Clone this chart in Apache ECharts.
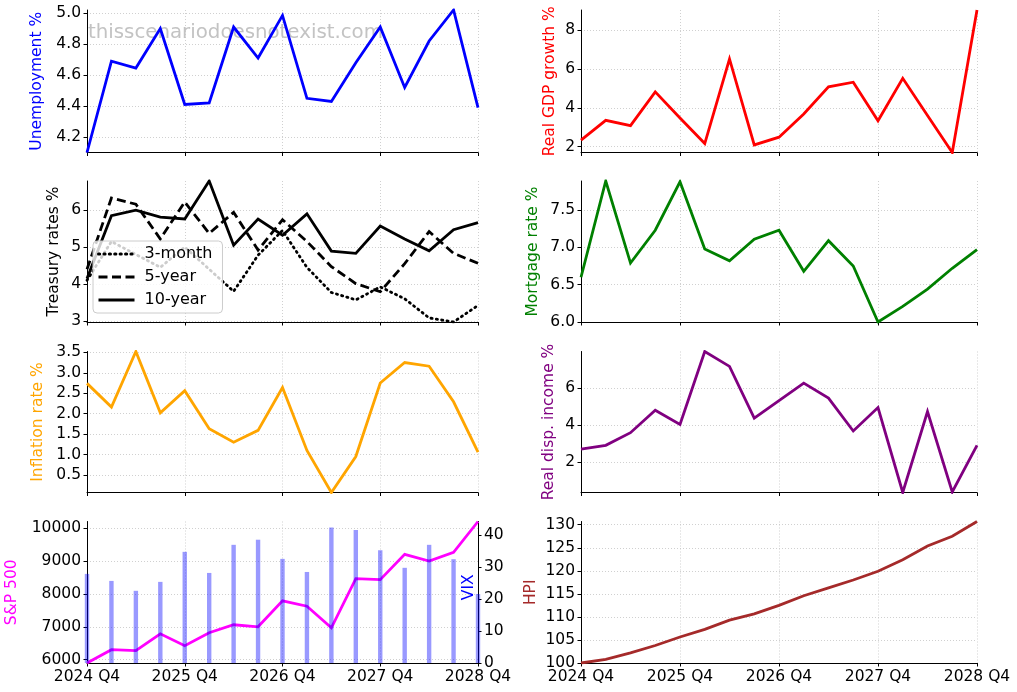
<!DOCTYPE html>
<html><head><meta charset="utf-8">
<script src="https://cdn.jsdelivr.net/npm/echarts@6/dist/echarts.min.js"></script>
<style>html,body{margin:0;padding:0;background:#fff}#c{width:1017px;height:692px}</style>
</head><body><div id="c"></div>
<script>
// ---------------- DATA ----------------
const quarters = ['2024 Q4','2025 Q1','2025 Q2','2025 Q3','2025 Q4','2026 Q1','2026 Q2','2026 Q3','2026 Q4',
                  '2027 Q1','2027 Q2','2027 Q3','2027 Q4','2028 Q1','2028 Q2','2028 Q3','2028 Q4'];
const unemployment = [4.10,4.69,4.645,4.90,4.41,4.42,4.91,4.71,4.985,4.45,4.43,4.68,4.91,4.52,4.82,5.02,4.39];
const gdpGrowth   = [2.33,3.35,3.08,4.82,3.47,2.15,6.52,2.08,2.48,3.68,5.08,5.32,3.33,5.52,3.60,1.69,9.05];
const treasury3m  = [4.10,5.15,4.80,4.45,5.00,4.40,3.80,4.78,5.45,4.45,3.77,3.57,3.92,3.60,3.08,2.97,3.42];
const treasury5y  = [4.40,6.33,6.16,5.22,6.22,5.37,5.94,4.92,5.74,5.15,4.47,4.01,3.79,4.55,5.42,4.83,4.56];
const treasury10y = [4.15,5.85,6.00,5.81,5.76,6.79,5.05,5.76,5.32,5.90,4.89,4.83,5.57,5.22,4.90,5.47,5.66];
const mortgage    = [6.60,7.89,6.79,7.23,7.88,6.98,6.82,7.11,7.23,6.68,7.09,6.75,6.00,6.21,6.44,6.72,6.97];
const inflation   = [2.74,2.16,3.52,2.02,2.56,1.63,1.30,1.59,2.64,1.10,0.07,0.95,2.75,3.25,3.16,2.29,1.06];
const dispIncome  = [2.72,2.92,3.60,4.81,4.04,7.97,7.17,4.38,5.33,6.27,5.46,3.69,4.95,0.38,4.74,0.41,2.92];
const sp500       = [5899,6303,6273,6788,6424,6818,7061,7000,7788,7626,6970,8465,8434,9202,9000,9263,10202];
const vix         = [27.9,25.7,22.6,25.4,34.8,28.2,37.0,38.6,32.6,28.5,42.4,41.6,35.3,29.8,37.0,32.5,21.6];
const hpi         = [100.0,100.8,102.2,103.8,105.65,107.3,109.3,110.65,112.5,114.6,116.3,118.0,119.9,122.4,125.4,127.5,130.7];

// tick labels
const unempTicks     = [4.2,4.4,4.6,4.8,5.0];
const gdpTicks       = [2,4,6,8];
const treasuryTicks  = [3,4,5,6];
const mortgageTicks  = [6.0,6.5,7.0,7.5];
const inflationTicks = [0.5,1.0,1.5,2.0,2.5,3.0,3.5];
const incomeTicks    = [2,4,6];
const spTicks        = [6000,7000,8000,9000,10000];
const vixTicks       = [0,10,20,30,40];
const hpiTicks       = [100,105,110,115,120,125,130];
const vixMax = 44.3;

// ---------------- LAYOUT / STYLE ----------------
const FONT = 'DejaVu Sans';
const FS = 15.5;
const colX = [[87,391],[581,396]];
const rowY = [[10,142.5],[181,141],[351.5,141],[521.5,141.5]];

const panels = [
  {c:0,r:0,name:'Unemployment %',color:'#0000ff',ticks:unempTicks,dec:1,gap:42,
   series:[{name:'Unemployment',data:unemployment,color:'#0000ff'}]},
  {c:1,r:0,name:'Real GDP growth %',color:'#ff0000',ticks:gdpTicks,dec:0,gap:23.5,
   series:[{name:'GDP',data:gdpGrowth,color:'#ff0000'}]},
  {c:0,r:1,name:'Treasury rates %',color:'#000000',ticks:treasuryTicks,dec:0,gap:25.5,
   series:[{name:'3-month',data:treasury3m,color:'#000',type:[1.2,4.2],cap:'round'},
           {name:'5-year',data:treasury5y,color:'#000',type:[9,4.5]},
           {name:'10-year',data:treasury10y,color:'#000',type:'solid'}]},
  {c:1,r:1,name:'Mortgage rate %',color:'#008000',ticks:mortgageTicks,dec:1,gap:40,
   series:[{name:'Mortgage',data:mortgage,color:'#008000'}]},
  {c:0,r:2,name:'Inflation rate %',color:'#ffa500',ticks:inflationTicks,dec:1,gap:41.5,
   series:[{name:'Inflation',data:inflation,color:'#ffa500'}]},
  {c:1,r:2,name:'Real disp. income %',color:'#800080',ticks:incomeTicks,dec:0,gap:24.5,
   series:[{name:'Income',data:dispIncome,color:'#800080'}]},
  {c:0,r:3,name:'S&P 500',color:'#ff00ff',ticks:spTicks,dec:0,gap:67,
   series:[{name:'S&P 500',data:sp500,color:'#ff00ff'}]},
  {c:1,r:3,name:'HPI',color:'#a52a2a',ticks:hpiTicks,dec:0,gap:42.5,
   series:[{name:'HPI',data:hpi,color:'#a52a2a'}]}
];

const grid = [], xAxis = [], yAxis = [], series = [];
const splitStyle = {show:true,lineStyle:{color:'#c4c4c4',width:0.8,type:[1,2]}};
const axisLine = {show:true,onZero:false,lineStyle:{color:'#000',width:1}};

panels.forEach((p,i)=>{
  grid.push({left:colX[p.c][0],width:colX[p.c][1],top:rowY[p.r][0],height:rowY[p.r][1],containLabel:false});
  xAxis.push({
    type:'category',gridIndex:i,data:quarters,boundaryGap:false,
    axisLine:axisLine,
    axisTick:{show:true,inside:false,length:3.5,interval:3,lineStyle:{color:'#000',width:1}},
    axisLabel:{show:p.r===3,interval:3,fontFamily:FONT,fontSize:FS,color:'#000',margin:6},
    splitLine:Object.assign({interval:3},splitStyle)
  });
  const yi = yAxis.length;
  yAxis.push({
    type:'value',gridIndex:i,min:'dataMin',max:'dataMax',scale:true,
    axisLine:axisLine,
    axisTick:{show:true,inside:false,length:3.5,customValues:p.ticks,lineStyle:{color:'#000',width:1}},
    axisLabel:{show:true,customValues:p.ticks,fontFamily:FONT,fontSize:FS,color:'#000',margin:6,
      formatter:(v)=>Number(v).toFixed(p.dec)},
    splitLine:splitStyle,
    name:p.name,nameLocation:'middle',nameGap:p.gap,
    nameTextStyle:{color:p.color,fontFamily:FONT,fontSize:FS}
  });
  p.series.forEach(s=>{
    series.push({
      type:'line',name:s.name,xAxisIndex:i,yAxisIndex:yi,data:s.data,
      symbol:'none',showSymbol:false,z:2,
      lineStyle:{color:s.color,width:2.8,type:s.type||'solid',cap:s.cap||'butt',join:'miter'},
      itemStyle:{color:s.color}
    });
  });
  if (p.name==='S&P 500') {
    const vi = yAxis.length;
    yAxis.push({
      type:'value',gridIndex:i,position:'right',min:0,max:vixMax,
      axisLine:axisLine,
      axisTick:{show:true,inside:false,length:3.5,customValues:vixTicks,lineStyle:{color:'#000',width:1}},
      axisLabel:{show:true,customValues:vixTicks,fontFamily:FONT,fontSize:FS,color:'#000',margin:6},
      splitLine:{show:false},
      name:'VIX',nameLocation:'middle',nameGap:-17,
      nameTextStyle:{color:'#0000ff',fontFamily:FONT,fontSize:FS,padding:[0,0,0,10]}
    });
    series.push({
      type:'bar',name:'VIX',xAxisIndex:i,yAxisIndex:vi,data:vix,barWidth:4.4,z:3,
      itemStyle:{color:'rgba(0,0,255,0.4)'}
    });
  }
});

const option = {
  animation:false,
  backgroundColor:'#fff',
  grid, xAxis, yAxis, series,
  legend:{
    data:['3-month','5-year','10-year'],
    orient:'vertical',left:93,top:241,
    padding:[5,10,5,4],itemGap:7,itemWidth:36,itemHeight:16,
    itemStyle:{opacity:0},
    lineStyle:{width:3},
    formatter:(n)=>' '+n,
    backgroundColor:'rgba(255,255,255,0.8)',borderColor:'#cccccc',borderWidth:1,borderRadius:4,
    textStyle:{fontFamily:FONT,fontSize:16,color:'#000',lineHeight:16},
    z:10
  },
  graphic:[{
    type:'text',left:88,top:23,z:1,silent:true,
    style:{text:'thisscenariodoesnotexist.com',fontFamily:FONT,fontSize:19.8,fill:'#c3c3c3'}
  }]
};
const chart = echarts.init(document.getElementById('c'));
chart.setOption(option);
</script></body></html>
